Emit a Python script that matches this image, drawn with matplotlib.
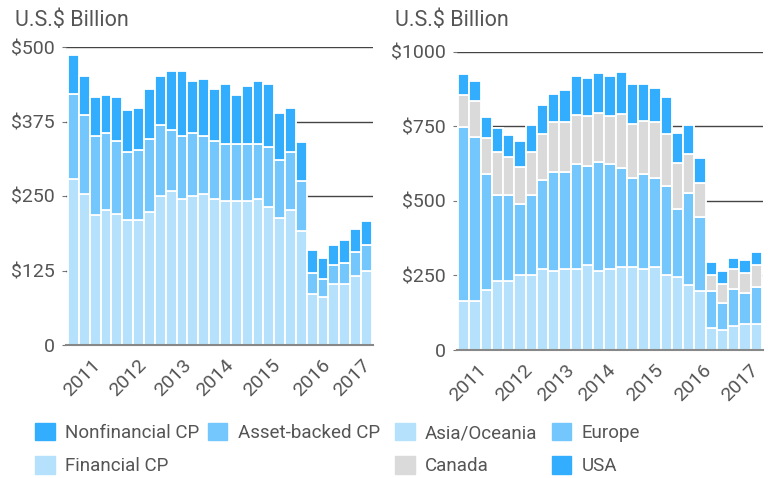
import matplotlib
matplotlib.use("Agg")
import matplotlib.pyplot as plt
import numpy as np
from matplotlib.patches import Patch

plt.rcParams['font.family'] = ['Roboto', 'DejaVu Sans']

# ---- data (US$ billion, quarterly) ----
cp_financial = [279, 254, 218, 227, 219, 210, 210, 223, 250, 258, 245, 250, 254, 245,
                241, 241, 241, 245, 231, 213, 227, 191, 85, 81, 102, 102, 116, 125]
cp_asset_backed = [142, 132, 133, 128, 123, 114, 118, 123, 119, 102, 106, 105, 97, 97,
                   97, 97, 97, 93, 102, 98, 97, 84, 35, 30, 32, 36, 40, 43]
cp_nonfinancial = [66, 65, 65, 65, 74, 70, 70, 83, 82, 100, 109, 88, 96, 87,
                   100, 82, 96, 105, 105, 78, 74, 66, 39, 35, 34, 39, 39, 40]

reg_asia = [165, 165, 200, 232, 232, 251, 251, 273, 266, 273, 273, 284, 266, 273,
            277, 277, 273, 277, 251, 246, 219, 199, 75, 67, 81, 88, 88]
reg_europe = [584, 550, 391, 289, 289, 237, 268, 298, 332, 325, 351, 334, 364, 351,
              333, 300, 318, 300, 300, 228, 306, 248, 124, 92, 125, 104, 124]
reg_canada = [105, 121, 121, 144, 126, 125, 146, 152, 165, 165, 165, 165, 166, 159,
              180, 180, 178, 186, 173, 152, 132, 114, 52, 61, 64, 65, 73]
reg_usa = [71, 65, 68, 78, 75, 89, 90, 97, 95, 110, 131, 130, 131, 135,
           142, 135, 123, 116, 123, 102, 98, 82, 45, 45, 39, 45, 45]

years = ['2011', '2012', '2013', '2014', '2015', '2016', '2017']
left_ticks = [0, 125, 250, 375, 500]
left_ticklabels = ['0', '$125', '$250', '$375', '$500']
right_ticks = [0, 250, 500, 750, 1000]
right_ticklabels = ['0', '$250', '$500', '$750', '$1000']

# layout: where the year labels sit (bar index units)
left_year_pos = [1.7, 5.9, 10.0, 13.9, 18.2, 22.8, 26.5]
right_year_pos = [1.2, 5.3, 9.0, 12.7, 16.9, 21.2, 25.4]

DARK = '#33aefe'
MID = '#74c7fd'
LIGHT = '#b6e1fc'
GREY = '#dadada'
TXT = '#555555'


def stacked(ax, series, colors):
    x = np.arange(len(series[0]))
    bottom = np.zeros(len(x))
    for vals, col in zip(series, colors):
        ax.bar(x, vals, bottom=bottom, width=1.0, color=col,
               edgecolor='white', linewidth=1.3, zorder=2)
        bottom += np.array(vals)
    return len(x)


def style(ax, n, ticks, ticklabels, ymax, year_pos, xpad):
    ax.set_xlim(-0.5 - xpad, n - 0.5 + 0.1)
    ax.set_ylim(0, ymax)
    ax.set_yticks(ticks)
    ax.set_yticklabels(ticklabels)
    ax.yaxis.grid(True, color='#444444', linewidth=1.0, zorder=0)
    ax.set_axisbelow(True)
    for s in ['top', 'right', 'left']:
        ax.spines[s].set_visible(False)
    ax.spines['bottom'].set_color('#888888')
    ax.spines['bottom'].set_linewidth(1.5)
    ax.spines['bottom'].set_zorder(3)
    ax.tick_params(axis='y', length=3, color='#777777', pad=5,
                   labelsize=14, labelcolor=TXT)
    ax.set_xticks(year_pos)
    ax.set_xticklabels(years, rotation=45, ha='right', rotation_mode='anchor',
                       fontsize=14, color=TXT)
    ax.tick_params(axis='x', length=0, pad=8)


fig = plt.figure(figsize=(7.69, 4.78), dpi=100)
ax1 = fig.add_axes([66 / 769, 1 - 345 / 478, 307 / 769, 298 / 478])
ax2 = fig.add_axes([457 / 769, 1 - 350 / 478, 306 / 769, 298.3 / 478])

n1 = stacked(ax1, [cp_financial, cp_asset_backed, cp_nonfinancial], [LIGHT, MID, DARK])
style(ax1, n1, left_ticks, left_ticklabels, 500, left_year_pos, 0.18)

n2 = stacked(ax2, [reg_asia, reg_europe, reg_canada, reg_usa], [LIGHT, MID, GREY, DARK])
style(ax2, n2, right_ticks, right_ticklabels, 1000, right_year_pos, 0.1)

fig.text(15 / 769, 1 - 21 / 478, 'U.S.$ Billion', fontsize=15.5, color=TXT, va='center')
fig.text(395 / 769, 1 - 21 / 478, 'U.S.$ Billion', fontsize=15.5, color=TXT, va='center')

leg_kw = dict(frameon=False, fontsize=13.5, labelcolor=TXT, handlelength=1.05,
              handleheight=1.05, handletextpad=0.55, labelspacing=0.75,
              borderpad=0, borderaxespad=0, loc='upper left', ncol=2)
h_left = [Patch(color=DARK, label='Nonfinancial CP'),
          Patch(color=LIGHT, label='Financial CP'),
          Patch(color=MID, label='Asset-backed CP')]
fig.legend(handles=h_left, bbox_to_anchor=(35 / 769, 1 - 423 / 478),
           columnspacing=0.45, **leg_kw)
h_right = [Patch(color=LIGHT, label='Asia/Oceania'),
           Patch(color=GREY, label='Canada'),
           Patch(color=MID, label='Europe'),
           Patch(color=DARK, label='USA')]
fig.legend(handles=h_right, bbox_to_anchor=(395 / 769, 1 - 423 / 478),
           columnspacing=0.75, **leg_kw)

fig.savefig('out.png', dpi=100)
